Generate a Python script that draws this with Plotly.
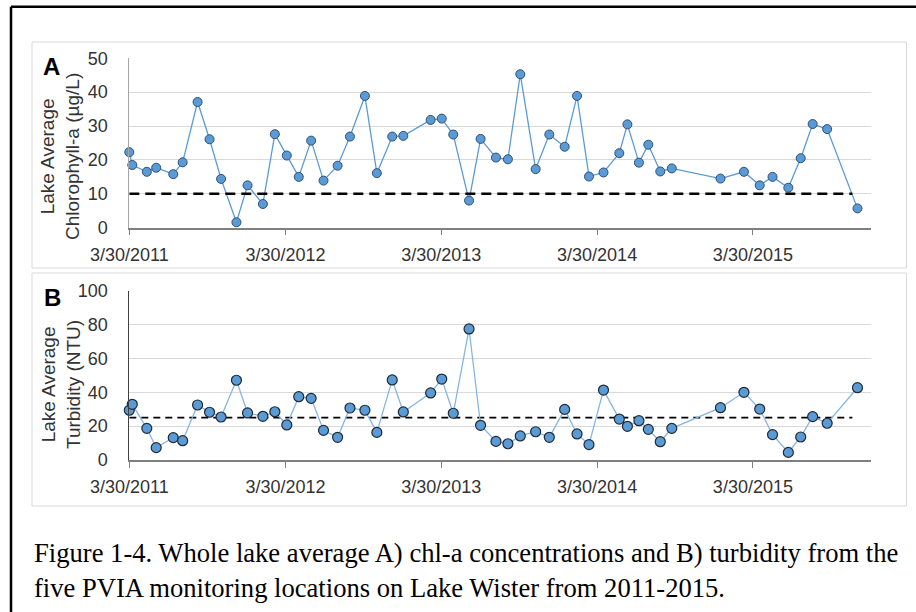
import plotly.graph_objects as go

# ---------------- data ----------------
dates = [
    "2011-03-30", "2011-04-06", "2011-05-10", "2011-06-01", "2011-07-11", "2011-08-02",
    "2011-09-06", "2011-10-04", "2011-10-31", "2011-12-06", "2012-01-01", "2012-02-06",
    "2012-03-05", "2012-04-02", "2012-04-30", "2012-05-29", "2012-06-27", "2012-07-30",
    "2012-08-28", "2012-10-02", "2012-10-30", "2012-12-05", "2012-12-31", "2013-03-05",
    "2013-03-31", "2013-04-27", "2013-06-03", "2013-06-30", "2013-08-05", "2013-09-02",
    "2013-10-01", "2013-11-06", "2013-12-08", "2014-01-13", "2014-02-11", "2014-03-11",
    "2014-04-14", "2014-05-21", "2014-06-09", "2014-07-06", "2014-07-28", "2014-08-25",
    "2014-09-21", "2015-01-13", "2015-03-09", "2015-04-15", "2015-05-15", "2015-06-21",
    "2015-07-20", "2015-08-17", "2015-09-20", "2015-11-30",
]
chlorophyll = [
    22.3, 18.5, 16.5, 17.7, 15.8, 19.3, 37.1, 26.1, 14.4, 1.6, 12.5, 7.0, 27.6,
    21.3, 15.0, 25.7, 13.9, 18.3, 26.9, 38.9, 16.1, 26.9, 27.1, 31.8, 32.2, 27.5,
    8.0, 26.2, 20.7, 20.2, 45.3, 17.3, 27.5, 23.9, 38.9, 15.1, 16.3, 22.0, 30.5,
    19.2, 24.5, 16.6, 17.5, 14.5, 16.5, 12.5, 15.0, 11.8, 20.5, 30.6, 29.1, 5.7,
]
turbidity = [
    29.4, 32.9, 18.7, 7.3, 13.2, 11.4, 32.5, 28.2, 25.4, 47.1, 27.8, 25.8, 28.5,
    20.7, 37.4, 36.4, 17.5, 13.4, 30.7, 29.4, 16.3, 47.3, 28.4, 39.6, 47.8, 27.6,
    77.4, 20.5, 11.0, 9.6, 14.2, 16.7, 13.4, 29.9, 15.4, 9.1, 41.3, 24.2, 19.9,
    23.2, 18.1, 10.8, 18.7, 30.9, 40.0, 30.1, 15.0, 4.5, 13.6, 25.6, 21.7, 42.7,
]
threshold_dates = ["2011-03-30", "2015-11-18"]
chl_threshold = [10, 10]
turb_threshold = [25, 25]
tick_dates = ["2011-03-30", "2012-03-30", "2013-03-30", "2014-03-30", "2015-03-30"]
tick_labels = ["3/30/2011", "3/30/2012", "3/30/2013", "3/30/2014", "3/30/2015"]
x_range = ["2011-03-30", "2015-12-31"]

W, H = 916, 612
def px(x):
    return x / W
def py(y):
    return 1 - y / H

fig = go.Figure()

# Panel A
fig.add_trace(go.Scatter(
    x=dates, y=chlorophyll, mode="lines+markers",
    line=dict(color="#5b9bd5", width=1.3),
    marker=dict(size=9, color="#5b9bd5", line=dict(color="#2e4f78", width=1)),
    xaxis="x", yaxis="y", showlegend=False, cliponaxis=False,
))
fig.add_trace(go.Scatter(
    x=threshold_dates, y=chl_threshold, mode="lines",
    line=dict(color="black", width=2.5, dash="10px,6px"),
    xaxis="x", yaxis="y", showlegend=False,
))

# Panel B
fig.add_trace(go.Scatter(
    x=threshold_dates, y=turb_threshold, mode="lines",
    line=dict(color="black", width=1.8, dash="7px,5px"),
    xaxis="x2", yaxis="y2", showlegend=False,
))
fig.add_trace(go.Scatter(
    x=dates, y=turbidity, mode="lines+markers",
    line=dict(color="#86b5e3", width=1.3),
    marker=dict(size=10, color="#5b9bd5", line=dict(color="#1f2a36", width=1.2)),
    xaxis="x2", yaxis="y2", showlegend=False, cliponaxis=False,
))

tickfont = dict(family="Liberation Sans, Arial", size=18, color="#333333")
xdom = [px(129.3), px(870.7)]

common_x = dict(
    type="date", range=x_range, domain=xdom, automargin=False,
    tickmode="array", tickvals=tick_dates, ticktext=tick_labels,
    ticks="outside", ticklen=6, tickwidth=1, tickcolor="#7f7f7f",
    showline=True, linecolor="#7f7f7f", linewidth=1.5,
    showgrid=False, zeroline=False, tickfont=tickfont,
    ticklabelstandoff=4,
)
fig.update_layout(
    template="none",
    xaxis=dict(anchor="y", **common_x),
    xaxis2=dict(anchor="y2", **common_x),
    yaxis=dict(
        domain=[py(227.7), py(58.3)], range=[0, 50], dtick=10, anchor="x", automargin=False,
        showgrid=True, gridcolor="#d9d9d9", gridwidth=1,
        showline=True, linecolor="#a6a6a6", linewidth=1,
        zeroline=False, ticks="", tickfont=tickfont, ticklabelstandoff=17,
    ),
    yaxis2=dict(
        domain=[py(460), py(290.7)], range=[0, 100], dtick=20, anchor="x2", automargin=False,
        showgrid=True, gridcolor="#d9d9d9", gridwidth=1,
        showline=True, linecolor="#404040", linewidth=1,
        zeroline=False, ticks="", tickfont=tickfont, ticklabelstandoff=17,
    ),
    width=W, height=H,
    margin=dict(l=0, r=0, t=0, b=0, pad=0, autoexpand=False),
    paper_bgcolor="white", plot_bgcolor="white",
    showlegend=False,
)

shapes = [
    # outer black frame (top and left edges visible)
    dict(type="line", xref="paper", yref="paper", x0=px(11), x1=px(916), y0=py(6.7), y1=py(6.7),
         line=dict(color="black", width=2.5)),
    dict(type="line", xref="paper", yref="paper", x0=px(11), x1=px(11), y0=py(6.7), y1=py(612),
         line=dict(color="black", width=2.5)),
    # chart area boxes
    dict(type="rect", xref="paper", yref="paper", x0=px(32), x1=px(906.5), y0=py(268), y1=py(42),
         line=dict(color="#d9d9d9", width=1), layer="below"),
    dict(type="rect", xref="paper", yref="paper", x0=px(32), x1=px(906.5), y0=py(506), y1=py(273),
         line=dict(color="#d9d9d9", width=1), layer="below"),
]
fig.update_layout(shapes=shapes)

title_font = dict(family="Liberation Sans, Arial", size=19, color="#333333")
caption_font = dict(family="Liberation Serif, Times New Roman", size=26.6, color="black")
label_font = dict(family="Liberation Sans, Arial", size=24, color="black")
annotations = [
    dict(text="<b>A</b>", x=px(51.5), y=py(66.5), font=label_font),
    dict(text="<b>B</b>", x=px(52), y=py(297.5), font=label_font),
    dict(text="Lake Average<br>Chlorophyll-a (µg/L)", x=px(60), y=py(157),
         textangle=-90, font=title_font),
    dict(text="Lake Average<br>Turbidity (NTU)", x=px(61), y=py(385),
         textangle=-90, font=title_font),
    dict(text="Figure 1-4. Whole lake average A) chl-a concentrations and B) turbidity from the",
         x=px(32), y=py(553), xanchor="left", font=caption_font),
    dict(text="five PVIA monitoring locations on Lake Wister from 2011-2015.",
         x=px(32), y=py(588), xanchor="left", font=caption_font),
]
for a in annotations:
    a.setdefault("xref", "paper")
    a.setdefault("yref", "paper")
    a.setdefault("showarrow", False)
    a.setdefault("xanchor", "center")
    a.setdefault("yanchor", "middle")
fig.update_layout(annotations=annotations)

fig.write_html("out.html")
